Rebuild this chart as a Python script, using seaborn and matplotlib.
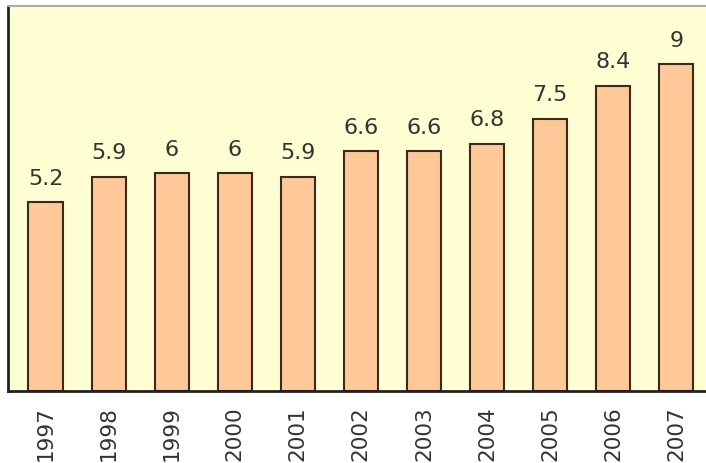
import seaborn as sns
import matplotlib.pyplot as plt

years = ["1997", "1998", "1999", "2000", "2001", "2002",
         "2003", "2004", "2005", "2006", "2007"]
values = [5.2, 5.9, 6, 6, 5.9, 6.6, 6.6, 6.8, 7.5, 8.4, 9]
labels = ["5.2", "5.9", "6", "6", "5.9", "6.6", "6.6", "6.8", "7.5", "8.4", "9"]

plt.rcParams["font.family"] = ["DejaVu Sans"]

fig = plt.figure(figsize=(7.06, 4.64), dpi=100)
ax = fig.add_axes([0.0113, 0.155, 0.989, 0.83])
ax.set_facecolor("#FFFDD2")

sns.barplot(x=years, y=values, color="#FFC898", saturation=1,
            edgecolor="#3B2A1C", linewidth=1.5, width=0.54, ax=ax)

# value labels above each bar
for bar, lab in zip(ax.patches, labels):
    ax.text(bar.get_x() + bar.get_width() / 2, bar.get_height() + 0.4, lab,
            ha="center", va="bottom", fontsize=16, color="#333333")

ax.set_xlim(-0.595, 10.476)
ax.set_ylim(0, 10.6)
ax.set_yticks([])
ax.tick_params(axis="x", length=0, labelsize=15.5, labelcolor="#333333", pad=10)
plt.setp(ax.get_xticklabels(), rotation=90)

for side in ["left", "bottom"]:
    ax.spines[side].set_color("#222222")
    ax.spines[side].set_linewidth(2)
ax.spines["right"].set_visible(False)
ax.spines["top"].set_color("#B0ADA0")
ax.spines["top"].set_linestyle((0, (1, 1)))
ax.spines["top"].set_linewidth(1.5)

fig.savefig("out.png", dpi=100)
